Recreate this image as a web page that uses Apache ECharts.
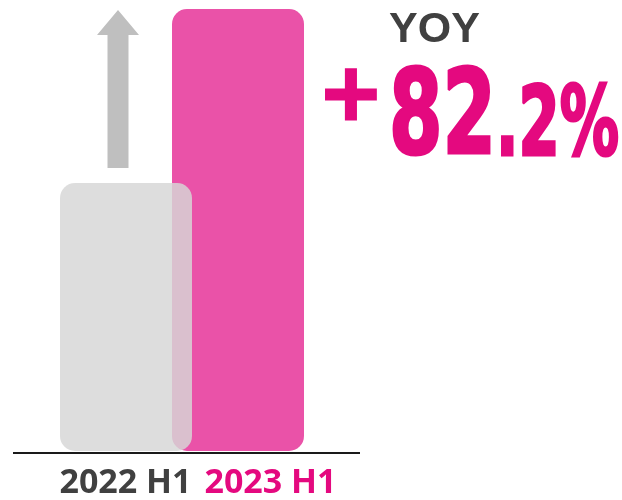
<!DOCTYPE html>
<html>
<head>
<meta charset="utf-8">
<script src="https://cdn.jsdelivr.net/npm/echarts@6/dist/echarts.min.js"></script>
<style>
  html, body { margin: 0; padding: 0; background: #fff; }
  #chart { width: 622px; height: 500px; }
</style>
</head>
<body>
<div id="chart"></div>
<script>
// data
var categories = ['2022 H1', '2023 H1'];
var values = [100, 165];
var labelColors = ['#404040', '#E4097F'];
var yoyTitle = 'YOY';
var yoyValue = ['+', '82', '.2%'];

var chart = echarts.init(document.getElementById('chart'));

var pink = '#E4097F';
var bigFont = 'DejaVu Sans Condensed';

// squeeze the big number into a condensed look
function textWidth(text, size) {
    var ctx = document.createElement('canvas').getContext('2d');
    ctx.font = 'bold ' + size + 'px "' + bigFont + '"';
    return ctx.measureText(text).width;
}
var sInt = 107 / textWidth(yoyValue[1], 118);
var sDec = 123 / textWidth(yoyValue[2], 96);

var option = {
    animation: false,
    grid: [
        { left: 32, width: 300, top: 9, bottom: 49 },   // bars (one group)
        { left: 53, width: 290, top: 9, bottom: 49 }    // labels
    ],
    xAxis: [
        { type: 'category', gridIndex: 0, data: ['H1'], show: false },
        {
            type: 'category', gridIndex: 1, data: categories,
            axisLine: { show: false }, axisTick: { show: false },
            axisLabel: {
                interval: 0,
                margin: 25,
                fontFamily: 'Open Sans', fontWeight: 'bold', fontSize: 34,
                color: function (v, i) { return labelColors[i]; }
            }
        }
    ],
    yAxis: [
        { type: 'value', gridIndex: 0, min: 0, max: 165, show: false },
        { type: 'value', gridIndex: 1, show: false }
    ],
    series: [
        {
            name: categories[0], type: 'bar', xAxisIndex: 0, yAxisIndex: 0, z: 3,
            data: [values[0]], barWidth: 132, barGap: '-15.15%',
            itemStyle: { color: 'rgba(214,214,214,0.83)', borderRadius: 15 }
        },
        {
            name: categories[1], type: 'bar', xAxisIndex: 0, yAxisIndex: 0, z: 2,
            data: [values[1]], barWidth: 132, barGap: '-15.15%',
            itemStyle: { color: '#EA52A8', borderRadius: 15 }
        }
    ],
    graphic: [
        // baseline
        { type: 'line', shape: { x1: 13, y1: 453, x2: 360, y2: 453 }, style: { stroke: '#1a1a1a', lineWidth: 2 } },
        // growth arrow
        {
            type: 'polygon',
            shape: { points: [[118, 10], [139, 35], [128.5, 35], [128.5, 168], [107.5, 168], [107.5, 35], [97, 35]] },
            style: { fill: '#BFBFBF' }
        },
        {
            type: 'text', x: 389, y: 30,
            style: { text: yoyTitle, fontFamily: 'Liberation Sans', fontWeight: 'bold', fontSize: 43, fill: '#404040', verticalAlign: 'middle' }
        },
        {
            type: 'text', x: 351, y: 99,
            style: { text: yoyValue[0], fontFamily: 'DejaVu Sans', fontWeight: 'bold', fontSize: 78, fill: pink, stroke: pink, lineWidth: 3, align: 'center', verticalAlign: 'middle' }
        },
        {
            type: 'text', x: 389, y: 122, scaleX: sInt, originX: 0,
            style: { text: yoyValue[1], fontFamily: bigFont, fontWeight: 'bold', fontSize: 118, fill: pink, stroke: pink, lineWidth: 3, verticalAlign: 'middle' }
        },
        {
            type: 'text', x: 496, y: 130, scaleX: sDec, originX: 0,
            style: { text: yoyValue[2], fontFamily: bigFont, fontWeight: 'bold', fontSize: 96, fill: pink, stroke: pink, lineWidth: 3, verticalAlign: 'middle' }
        }
    ]
};

chart.setOption(option);
</script>
</body>
</html>
